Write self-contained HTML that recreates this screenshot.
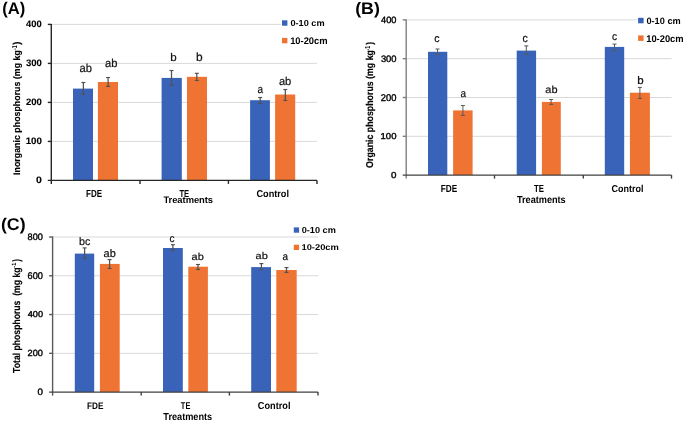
<!DOCTYPE html>
<html><head><meta charset="utf-8"><style>
html,body{margin:0;padding:0;background:#fff;}
svg{display:block;}
text{font-family:"Liberation Sans",sans-serif;text-rendering:geometricPrecision;}
.t{opacity:0.999;}
</style></head><body>
<svg width="685" height="423" viewBox="0 0 685 423">
<rect width="685" height="423" fill="#fff"/>
<line x1="51.3" y1="141.4" x2="317" y2="141.4" stroke="#d9d9d9" stroke-width="1"/>
<line x1="51.3" y1="102.4" x2="317" y2="102.4" stroke="#d9d9d9" stroke-width="1"/>
<line x1="51.3" y1="63.4" x2="317" y2="63.4" stroke="#d9d9d9" stroke-width="1"/>
<line x1="51.3" y1="24.4" x2="281" y2="24.4" stroke="#d9d9d9" stroke-width="1"/>
<rect x="73.00" y="88.60" width="20.00" height="91.80" fill="#3863b9"/>
<rect x="97.90" y="82.00" width="20.10" height="98.40" fill="#ef7433"/>
<rect x="161.60" y="77.90" width="20.20" height="102.50" fill="#3863b9"/>
<rect x="187.00" y="76.80" width="20.00" height="103.60" fill="#ef7433"/>
<rect x="250.10" y="100.20" width="19.80" height="80.20" fill="#3863b9"/>
<rect x="275.10" y="94.50" width="20.10" height="85.90" fill="#ef7433"/>
<line x1="83.4" y1="82.5" x2="83.4" y2="94.4" stroke="#525252" stroke-width="1.25"/>
<line x1="81.4" y1="82.5" x2="85.4" y2="82.5" stroke="#525252" stroke-width="1.15"/>
<line x1="81.4" y1="94.4" x2="85.4" y2="94.4" stroke="#525252" stroke-width="1.15"/>
<line x1="108.1" y1="77.5" x2="108.1" y2="86.4" stroke="#525252" stroke-width="1.25"/>
<line x1="106.1" y1="77.5" x2="110.1" y2="77.5" stroke="#525252" stroke-width="1.15"/>
<line x1="106.1" y1="86.4" x2="110.1" y2="86.4" stroke="#525252" stroke-width="1.15"/>
<line x1="171.5" y1="70.5" x2="171.5" y2="85.3" stroke="#525252" stroke-width="1.25"/>
<line x1="169.5" y1="70.5" x2="173.5" y2="70.5" stroke="#525252" stroke-width="1.15"/>
<line x1="169.5" y1="85.3" x2="173.5" y2="85.3" stroke="#525252" stroke-width="1.15"/>
<line x1="196.8" y1="73.3" x2="196.8" y2="80.5" stroke="#525252" stroke-width="1.25"/>
<line x1="194.8" y1="73.3" x2="198.8" y2="73.3" stroke="#525252" stroke-width="1.15"/>
<line x1="194.8" y1="80.5" x2="198.8" y2="80.5" stroke="#525252" stroke-width="1.15"/>
<line x1="260.2" y1="97.5" x2="260.2" y2="103.5" stroke="#525252" stroke-width="1.25"/>
<line x1="258.2" y1="97.5" x2="262.2" y2="97.5" stroke="#525252" stroke-width="1.15"/>
<line x1="258.2" y1="103.5" x2="262.2" y2="103.5" stroke="#525252" stroke-width="1.15"/>
<line x1="285.3" y1="89.5" x2="285.3" y2="100.5" stroke="#525252" stroke-width="1.25"/>
<line x1="283.3" y1="89.5" x2="287.3" y2="89.5" stroke="#525252" stroke-width="1.15"/>
<line x1="283.3" y1="100.5" x2="287.3" y2="100.5" stroke="#525252" stroke-width="1.15"/>
<line x1="51.3" y1="23.9" x2="51.3" y2="183.9" stroke="#262626" stroke-width="1.4"/>
<line x1="47.8" y1="180.4" x2="317" y2="180.4" stroke="#262626" stroke-width="1.4"/>
<line x1="47.8" y1="141.4" x2="51.3" y2="141.4" stroke="#262626" stroke-width="1.4"/>
<line x1="47.8" y1="102.4" x2="51.3" y2="102.4" stroke="#262626" stroke-width="1.4"/>
<line x1="47.8" y1="63.4" x2="51.3" y2="63.4" stroke="#262626" stroke-width="1.4"/>
<line x1="47.8" y1="24.4" x2="51.3" y2="24.4" stroke="#262626" stroke-width="1.4"/>
<line x1="140.0" y1="180.4" x2="140.0" y2="183.9" stroke="#262626" stroke-width="1.4"/>
<line x1="228.4" y1="180.4" x2="228.4" y2="183.9" stroke="#262626" stroke-width="1.4"/>
<line x1="317" y1="180.4" x2="317" y2="183.9" stroke="#262626" stroke-width="1.4"/>
<line x1="406.2" y1="136.3" x2="671.5" y2="136.3" stroke="#d9d9d9" stroke-width="1"/>
<line x1="406.2" y1="97.5" x2="671.5" y2="97.5" stroke="#d9d9d9" stroke-width="1"/>
<line x1="406.2" y1="58.7" x2="671.5" y2="58.7" stroke="#d9d9d9" stroke-width="1"/>
<line x1="406.2" y1="19.9" x2="637.5" y2="19.9" stroke="#d9d9d9" stroke-width="1"/>
<rect x="428.00" y="51.80" width="19.30" height="123.30" fill="#3863b9"/>
<rect x="453.10" y="110.40" width="19.50" height="64.70" fill="#ef7433"/>
<rect x="516.70" y="50.60" width="19.40" height="124.50" fill="#3863b9"/>
<rect x="541.90" y="101.90" width="18.90" height="73.20" fill="#ef7433"/>
<rect x="604.80" y="46.90" width="19.40" height="128.20" fill="#3863b9"/>
<rect x="629.90" y="92.70" width="20.00" height="82.40" fill="#ef7433"/>
<line x1="437.5" y1="49.0" x2="437.5" y2="54.4" stroke="#595959" stroke-width="1.0"/>
<line x1="435.5" y1="49.0" x2="439.5" y2="49.0" stroke="#595959" stroke-width="1.05"/>
<line x1="435.5" y1="54.4" x2="439.5" y2="54.4" stroke="#595959" stroke-width="1.05"/>
<line x1="462.9" y1="105.5" x2="462.9" y2="115.4" stroke="#595959" stroke-width="1.0"/>
<line x1="460.9" y1="105.5" x2="464.9" y2="105.5" stroke="#595959" stroke-width="1.05"/>
<line x1="460.9" y1="115.4" x2="464.9" y2="115.4" stroke="#595959" stroke-width="1.05"/>
<line x1="526.3" y1="45.9" x2="526.3" y2="54.4" stroke="#595959" stroke-width="1.0"/>
<line x1="524.3" y1="45.9" x2="528.3" y2="45.9" stroke="#595959" stroke-width="1.05"/>
<line x1="524.3" y1="54.4" x2="528.3" y2="54.4" stroke="#595959" stroke-width="1.05"/>
<line x1="551.1" y1="99.5" x2="551.1" y2="104.4" stroke="#595959" stroke-width="1.0"/>
<line x1="549.1" y1="99.5" x2="553.1" y2="99.5" stroke="#595959" stroke-width="1.05"/>
<line x1="549.1" y1="104.4" x2="553.1" y2="104.4" stroke="#595959" stroke-width="1.05"/>
<line x1="614.5" y1="44.1" x2="614.5" y2="50.9" stroke="#595959" stroke-width="1.0"/>
<line x1="612.5" y1="44.1" x2="616.5" y2="44.1" stroke="#595959" stroke-width="1.05"/>
<line x1="612.5" y1="50.9" x2="616.5" y2="50.9" stroke="#595959" stroke-width="1.05"/>
<line x1="639.9" y1="87.4" x2="639.9" y2="98.5" stroke="#595959" stroke-width="1.0"/>
<line x1="637.9" y1="87.4" x2="641.9" y2="87.4" stroke="#595959" stroke-width="1.05"/>
<line x1="637.9" y1="98.5" x2="641.9" y2="98.5" stroke="#595959" stroke-width="1.05"/>
<line x1="406.2" y1="19.4" x2="406.2" y2="178.6" stroke="#7f7f7f" stroke-width="1.4"/>
<line x1="402.7" y1="175.1" x2="671.5" y2="175.1" stroke="#404040" stroke-width="1.4"/>
<line x1="402.7" y1="136.3" x2="406.2" y2="136.3" stroke="#7f7f7f" stroke-width="1.4"/>
<line x1="402.7" y1="97.5" x2="406.2" y2="97.5" stroke="#7f7f7f" stroke-width="1.4"/>
<line x1="402.7" y1="58.7" x2="406.2" y2="58.7" stroke="#7f7f7f" stroke-width="1.4"/>
<line x1="402.7" y1="19.9" x2="406.2" y2="19.9" stroke="#7f7f7f" stroke-width="1.4"/>
<line x1="494.5" y1="175.1" x2="494.5" y2="178.6" stroke="#404040" stroke-width="1.4"/>
<line x1="583.3" y1="175.1" x2="583.3" y2="178.6" stroke="#404040" stroke-width="1.4"/>
<line x1="671.5" y1="175.1" x2="671.5" y2="178.6" stroke="#404040" stroke-width="1.4"/>
<line x1="52.6" y1="353.33" x2="318" y2="353.33" stroke="#d9d9d9" stroke-width="1"/>
<line x1="52.6" y1="314.55" x2="318" y2="314.55" stroke="#d9d9d9" stroke-width="1"/>
<line x1="52.6" y1="275.77" x2="318" y2="275.77" stroke="#d9d9d9" stroke-width="1"/>
<line x1="52.6" y1="237.0" x2="318" y2="237.0" stroke="#d9d9d9" stroke-width="1"/>
<rect x="74.80" y="253.60" width="19.40" height="138.50" fill="#3863b9"/>
<rect x="99.90" y="263.90" width="19.80" height="128.20" fill="#ef7433"/>
<rect x="163.00" y="248.00" width="19.80" height="144.10" fill="#3863b9"/>
<rect x="188.30" y="266.70" width="19.60" height="125.40" fill="#ef7433"/>
<rect x="251.20" y="267.10" width="19.80" height="125.00" fill="#3863b9"/>
<rect x="276.30" y="270.00" width="20.40" height="122.10" fill="#ef7433"/>
<line x1="84.6" y1="247.9" x2="84.6" y2="258.1" stroke="#525252" stroke-width="1.25"/>
<line x1="82.6" y1="247.9" x2="86.6" y2="247.9" stroke="#525252" stroke-width="1.15"/>
<line x1="82.6" y1="258.1" x2="86.6" y2="258.1" stroke="#525252" stroke-width="1.15"/>
<line x1="109.6" y1="259.6" x2="109.6" y2="268.5" stroke="#525252" stroke-width="1.25"/>
<line x1="107.6" y1="259.6" x2="111.6" y2="259.6" stroke="#525252" stroke-width="1.15"/>
<line x1="107.6" y1="268.5" x2="111.6" y2="268.5" stroke="#525252" stroke-width="1.15"/>
<line x1="172.9" y1="244.7" x2="172.9" y2="250.2" stroke="#525252" stroke-width="1.25"/>
<line x1="170.9" y1="244.7" x2="174.9" y2="244.7" stroke="#525252" stroke-width="1.15"/>
<line x1="170.9" y1="250.2" x2="174.9" y2="250.2" stroke="#525252" stroke-width="1.15"/>
<line x1="198.0" y1="264.5" x2="198.0" y2="269.5" stroke="#525252" stroke-width="1.25"/>
<line x1="196.0" y1="264.5" x2="200.0" y2="264.5" stroke="#525252" stroke-width="1.15"/>
<line x1="196.0" y1="269.5" x2="200.0" y2="269.5" stroke="#525252" stroke-width="1.15"/>
<line x1="261.4" y1="263.6" x2="261.4" y2="269.5" stroke="#525252" stroke-width="1.25"/>
<line x1="259.4" y1="263.6" x2="263.4" y2="263.6" stroke="#525252" stroke-width="1.15"/>
<line x1="259.4" y1="269.5" x2="263.4" y2="269.5" stroke="#525252" stroke-width="1.15"/>
<line x1="286.5" y1="267.6" x2="286.5" y2="272.4" stroke="#525252" stroke-width="1.25"/>
<line x1="284.5" y1="267.6" x2="288.5" y2="267.6" stroke="#525252" stroke-width="1.15"/>
<line x1="284.5" y1="272.4" x2="288.5" y2="272.4" stroke="#525252" stroke-width="1.15"/>
<line x1="52.6" y1="236.5" x2="52.6" y2="395.6" stroke="#595959" stroke-width="1.4"/>
<line x1="49.1" y1="392.1" x2="318" y2="392.1" stroke="#404040" stroke-width="1.4"/>
<line x1="49.1" y1="353.33" x2="52.6" y2="353.33" stroke="#595959" stroke-width="1.4"/>
<line x1="49.1" y1="314.55" x2="52.6" y2="314.55" stroke="#595959" stroke-width="1.4"/>
<line x1="49.1" y1="275.77" x2="52.6" y2="275.77" stroke="#595959" stroke-width="1.4"/>
<line x1="49.1" y1="237.0" x2="52.6" y2="237.0" stroke="#595959" stroke-width="1.4"/>
<line x1="141.2" y1="392.1" x2="141.2" y2="395.6" stroke="#404040" stroke-width="1.4"/>
<line x1="229.4" y1="392.1" x2="229.4" y2="395.6" stroke="#404040" stroke-width="1.4"/>
<line x1="318" y1="392.1" x2="318" y2="395.6" stroke="#404040" stroke-width="1.4"/>
<rect x="282.00" y="20.30" width="5.40" height="5.40" fill="#3863b9"/>
<rect x="282.00" y="37.90" width="5.40" height="5.40" fill="#ef7433"/>
<rect x="638.10" y="17.80" width="5.50" height="5.50" fill="#3863b9"/>
<rect x="638.10" y="35.40" width="5.50" height="5.50" fill="#ef7433"/>
<rect x="293.80" y="227.40" width="5.30" height="5.30" fill="#3863b9"/>
<rect x="293.80" y="244.70" width="5.30" height="5.30" fill="#ef7433"/>
<g class="t">
<text transform="translate(2.27,14.00) scale(0.0833,0.0838)" font-size="200" font-weight="bold" fill="#000">(A)</text>
<text transform="translate(355.22,14.00) scale(0.0884,0.0827)" font-size="200" font-weight="bold" fill="#000">(B)</text>
<text transform="translate(0.91,230.00) scale(0.0891,0.0849)" font-size="200" font-weight="bold" fill="#000">(C)</text>
<text transform="translate(36.04,183.00) scale(0.0524,0.0467)" font-size="200" font-weight="bold" fill="#000" stroke="#000" stroke-width="2.4">0</text>
<text transform="translate(25.63,144.00) scale(0.0487,0.0467)" font-size="200" font-weight="bold" fill="#000" stroke="#000" stroke-width="2.5">100</text>
<text transform="translate(25.93,105.00) scale(0.0477,0.0467)" font-size="200" font-weight="bold" fill="#000" stroke="#000" stroke-width="2.5">200</text>
<text transform="translate(26.02,66.00) scale(0.0474,0.0467)" font-size="200" font-weight="bold" fill="#000" stroke="#000" stroke-width="2.5">300</text>
<text transform="translate(26.12,27.00) scale(0.0471,0.0467)" font-size="200" font-weight="bold" fill="#000" stroke="#000" stroke-width="2.6">400</text>
<text transform="translate(390.96,178.00) scale(0.0489,0.0443)" font-size="200" font-weight="normal" fill="#000" stroke="#000" stroke-width="8.6">0</text>
<text transform="translate(380.54,139.00) scale(0.0476,0.0429)" font-size="200" font-weight="normal" fill="#000" stroke="#000" stroke-width="8.8">100</text>
<text transform="translate(380.78,101.00) scale(0.0468,0.0485)" font-size="200" font-weight="normal" fill="#000" stroke="#000" stroke-width="8.4">200</text>
<text transform="translate(380.88,62.00) scale(0.0465,0.0471)" font-size="200" font-weight="normal" fill="#000" stroke="#000" stroke-width="8.5">300</text>
<text transform="translate(381.02,23.00) scale(0.0461,0.0457)" font-size="200" font-weight="normal" fill="#000" stroke="#000" stroke-width="8.7">400</text>
<text transform="translate(37.61,395.00) scale(0.0484,0.0464)" font-size="200" font-weight="normal" fill="#000" stroke="#000" stroke-width="8.4">0</text>
<text transform="translate(27.54,356.00) scale(0.0463,0.0449)" font-size="200" font-weight="normal" fill="#000" stroke="#000" stroke-width="8.8">200</text>
<text transform="translate(27.77,317.00) scale(0.0456,0.0433)" font-size="200" font-weight="normal" fill="#000" stroke="#000" stroke-width="9.0">400</text>
<text transform="translate(27.54,279.00) scale(0.0463,0.0488)" font-size="200" font-weight="normal" fill="#000" stroke="#000" stroke-width="8.4">600</text>
<text transform="translate(27.58,240.00) scale(0.0462,0.0473)" font-size="200" font-weight="normal" fill="#000" stroke="#000" stroke-width="8.6">800</text>
<text transform="translate(86.08,197.00) scale(0.0403,0.0514)" font-size="200" font-weight="bold" fill="#000">FDE</text>
<text transform="translate(179.42,197.00) scale(0.0382,0.0507)" font-size="200" font-weight="bold" fill="#000">TE</text>
<text transform="translate(256.53,197.00) scale(0.0456,0.0497)" font-size="200" font-weight="bold" fill="#000">Control</text>
<text transform="translate(163.41,203.00) scale(0.0465,0.0471)" font-size="200" font-weight="bold" fill="#000">Treatments</text>
<text transform="translate(440.76,192.00) scale(0.0413,0.0514)" font-size="200" font-weight="bold" fill="#000">FDE</text>
<text transform="translate(534.02,192.00) scale(0.0390,0.0522)" font-size="200" font-weight="bold" fill="#000">TE</text>
<text transform="translate(611.44,192.00) scale(0.0451,0.0496)" font-size="200" font-weight="bold" fill="#000">Control</text>
<text transform="translate(516.91,203.00) scale(0.0457,0.0507)" font-size="200" font-weight="bold" fill="#000">Treatments</text>
<text transform="translate(87.06,409.00) scale(0.0413,0.0478)" font-size="200" font-weight="bold" fill="#000">FDE</text>
<text transform="translate(180.83,409.00) scale(0.0374,0.0500)" font-size="200" font-weight="bold" fill="#000">TE</text>
<text transform="translate(257.73,409.00) scale(0.0462,0.0503)" font-size="200" font-weight="bold" fill="#000">Control</text>
<text transform="translate(163.31,420.00) scale(0.0458,0.0507)" font-size="200" font-weight="bold" fill="#000">Treatments</text>
<text transform="translate(79.60,72.00) scale(0.0561,0.0586)" font-size="200" font-weight="normal" fill="#111" stroke="#111" stroke-width="3.5">ab</text>
<text transform="translate(105.10,67.00) scale(0.0561,0.0579)" font-size="200" font-weight="normal" fill="#111" stroke="#111" stroke-width="3.5">ab</text>
<text transform="translate(170.15,61.00) scale(0.0578,0.0558)" font-size="200" font-weight="normal" fill="#111" stroke="#111" stroke-width="3.5">b</text>
<text transform="translate(196.12,61.00) scale(0.0600,0.0593)" font-size="200" font-weight="normal" fill="#111" stroke="#111" stroke-width="3.4">b</text>
<text transform="translate(257.55,93.00) scale(0.0500,0.0564)" font-size="200" font-weight="normal" fill="#111" stroke="#111" stroke-width="3.8">a</text>
<text transform="translate(278.90,85.00) scale(0.0556,0.0565)" font-size="200" font-weight="normal" fill="#111" stroke="#111" stroke-width="3.6">ab</text>
<text transform="translate(434.23,42.00) scale(0.0523,0.0546)" font-size="200" font-weight="normal" fill="#111" stroke="#111" stroke-width="3.7">c</text>
<text transform="translate(460.55,97.00) scale(0.0500,0.0555)" font-size="200" font-weight="normal" fill="#111" stroke="#111" stroke-width="3.8">a</text>
<text transform="translate(522.53,42.00) scale(0.0523,0.0574)" font-size="200" font-weight="normal" fill="#111" stroke="#111" stroke-width="3.6">c</text>
<text transform="translate(545.30,93.00) scale(0.0551,0.0518)" font-size="200" font-weight="normal" fill="#111" stroke="#111" stroke-width="3.7">ab</text>
<text transform="translate(612.04,40.00) scale(0.0512,0.0537)" font-size="200" font-weight="normal" fill="#111" stroke="#111" stroke-width="3.8">c</text>
<text transform="translate(637.15,84.00) scale(0.0578,0.0545)" font-size="200" font-weight="normal" fill="#111" stroke="#111" stroke-width="3.6">b</text>
<text transform="translate(79.10,245.00) scale(0.0539,0.0538)" font-size="200" font-weight="normal" fill="#111" stroke="#111" stroke-width="3.7">bc</text>
<text transform="translate(103.50,257.00) scale(0.0551,0.0544)" font-size="200" font-weight="normal" fill="#111" stroke="#111" stroke-width="3.7">ab</text>
<text transform="translate(169.45,242.00) scale(0.0500,0.0537)" font-size="200" font-weight="normal" fill="#111" stroke="#111" stroke-width="3.9">c</text>
<text transform="translate(191.50,260.00) scale(0.0551,0.0497)" font-size="200" font-weight="normal" fill="#111" stroke="#111" stroke-width="3.8">ab</text>
<text transform="translate(255.60,259.00) scale(0.0551,0.0490)" font-size="200" font-weight="normal" fill="#111" stroke="#111" stroke-width="3.8">ab</text>
<text transform="translate(282.55,260.00) scale(0.0500,0.0537)" font-size="200" font-weight="normal" fill="#111" stroke="#111" stroke-width="3.9">a</text>
<text transform="translate(290.43,26.00) scale(0.0459,0.0435)" font-size="200" font-weight="bold" fill="#000">0-10 cm</text>
<text transform="translate(290.19,44.00) scale(0.0466,0.0478)" font-size="200" font-weight="bold" fill="#000">10-20cm</text>
<text transform="translate(646.43,24.00) scale(0.0460,0.0457)" font-size="200" font-weight="bold" fill="#000">0-10 cm</text>
<text transform="translate(646.19,42.00) scale(0.0467,0.0485)" font-size="200" font-weight="bold" fill="#000">10-20cm</text>
<text transform="translate(301.73,233.00) scale(0.0457,0.0436)" font-size="200" font-weight="bold" fill="#000">0-10 cm</text>
<text transform="translate(301.49,250.00) scale(0.0466,0.0422)" font-size="200" font-weight="bold" fill="#000">10-20cm</text>
<text transform="translate(20.00,174.90) rotate(-90) scale(0.0442,0.0466)" font-size="200" font-weight="bold" fill="#000" stroke="#000" stroke-width="3.3">Inorganic phosphorus (mg kg</text>
<text transform="translate(17.00,49.90) rotate(-90) scale(0.0255,0.0362)" font-size="200" font-weight="bold" fill="#000">-1</text>
<text transform="translate(20.00,44.65) rotate(-90) scale(0.0464,0.0497)" font-size="200" font-weight="bold" fill="#000" stroke="#000" stroke-width="4.2">)</text>
<text transform="translate(373.00,167.88) rotate(-90) scale(0.0440,0.0495)" font-size="200" font-weight="bold" fill="#000" stroke="#000" stroke-width="3.2">Organic phosphorus (mg kg</text>
<text transform="translate(370.00,50.51) rotate(-90) scale(0.0267,0.0362)" font-size="200" font-weight="bold" fill="#000">-1</text>
<text transform="translate(373.00,44.74) rotate(-90) scale(0.0411,0.0490)" font-size="200" font-weight="bold" fill="#000" stroke="#000" stroke-width="4.4">)</text>
<text transform="translate(20.00,372.91) rotate(-90) scale(0.0432,0.0509)" font-size="200" font-weight="bold" fill="#000" stroke="#000" stroke-width="3.2">Total phosphorus  (mg kg</text>
<text transform="translate(16.00,267.73) rotate(-90) scale(0.0285,0.0312)" font-size="200" font-weight="bold" fill="#000">-1</text>
<text transform="translate(20.00,261.64) rotate(-90) scale(0.0411,0.0531)" font-size="200" font-weight="bold" fill="#000" stroke="#000" stroke-width="4.2">)</text>
</g>
</svg>
</body></html>
